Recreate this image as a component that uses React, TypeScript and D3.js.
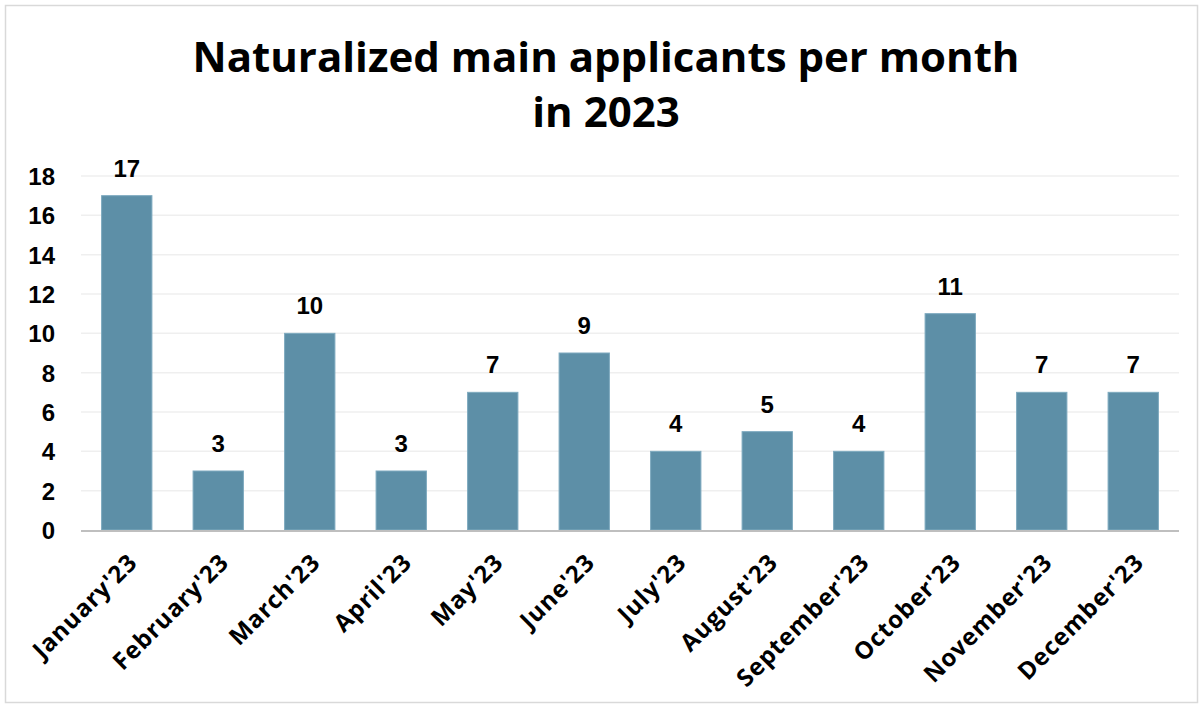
import React from "react";
import * as d3 from "d3";

const months = ["January'23","February'23","March'23","April'23","May'23","June'23","July'23","August'23","September'23","October'23","November'23","December'23"];
const values = [17,3,10,3,7,9,4,5,4,11,7,7];
const yTicks = [0,2,4,6,8,10,12,14,16,18];
const titleLines = ["Naturalized main applicants per month","in 2023"];

const W = 1203, H = 708;
const M = { left: 81, right: 1179, top: 176, bottom: 530 };

export default function App() {
  const x = d3.scaleBand<string>().domain(months).range([M.left, M.right]).paddingInner(0.45).paddingOuter(0.225);
  const y = d3.scaleLinear().domain([0, 18]).range([M.bottom, M.top]);
  return (
    <svg width={W} height={H} style={{ position: "absolute", left: 0, top: 0 }}>
      <rect x={0} y={0} width={W} height={H} fill="#fff" />
      <rect x={5.5} y={5.5} width={1192} height={697} fill="#fff" stroke="#d9d9d9" strokeWidth={1.5} />
      {titleLines.map((t, i) => (
        <text key={i} x={606} y={72 + i * 55} textAnchor="middle" fontFamily="'Open Sans', Roboto, sans-serif" fontWeight={700} fontSize={42} fill="#000">{t}</text>
      ))}
      {yTicks.map(t => (
        <g key={t}>
          {t > 0 && <line x1={M.left} x2={M.right} y1={y(t)} y2={y(t)} stroke="#efefef" strokeWidth={1.5} />}
          <text x={55} y={y(t) + 9} textAnchor="end" fontFamily="'Liberation Sans', Arial, sans-serif" fontWeight={700} fontSize={24} fill="#000">{t}</text>
        </g>
      ))}
      {months.map((m, i) => (
        <g key={m}>
          <rect x={x(m)} y={y(values[i])} width={x.bandwidth()} height={y(0) - y(values[i])} fill="#5d8fa7" stroke="#7eaabf" strokeWidth={1} />
          <text x={x(m)! + x.bandwidth() / 2} y={y(values[i]) - 19} textAnchor="middle" fontFamily="'Liberation Sans', Arial, sans-serif" fontWeight={700} fontSize={24} fill="#000">{values[i]}</text>
          <text transform={`translate(${x(m)! + x.bandwidth() / 2 + 12},${M.bottom + 34}) rotate(-45)`} textAnchor="end" fontFamily="'Open Sans', sans-serif" fontWeight={700} fontSize={24} letterSpacing={0.9} fill="#000">{m}</text>
        </g>
      ))}
      <line x1={M.left} x2={M.right} y1={M.bottom + 1} y2={M.bottom + 1} stroke="#bfbfbf" strokeWidth={2} />
    </svg>
  );
}
